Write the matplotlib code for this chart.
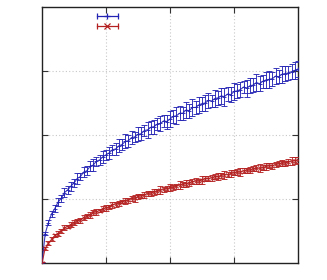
import matplotlib
matplotlib.use("Agg")
import matplotlib.pyplot as plt
from matplotlib.lines import Line2D
from matplotlib.legend_handler import HandlerLine2D, HandlerTuple

x = [0.00, 0.05, 0.10, 0.15, 0.20, 0.25, 0.30, 0.35, 0.40, 0.45,
     0.50, 0.55, 0.60, 0.65, 0.70, 0.75, 0.80, 0.85, 0.90, 0.95,
     1.00, 1.05, 1.10, 1.15, 1.20, 1.25, 1.30, 1.35, 1.40, 1.45,
     1.50, 1.55, 1.60, 1.65, 1.70, 1.75, 1.80, 1.85, 1.90, 1.95,
     2.00, 2.05, 2.10, 2.15, 2.20, 2.25, 2.30, 2.35, 2.40, 2.45,
     2.50, 2.55, 2.60, 2.65, 2.70, 2.75, 2.80, 2.85, 2.90, 2.95,
     3.00, 3.05, 3.10, 3.15, 3.20, 3.25, 3.30, 3.35, 3.40, 3.45,
     3.50, 3.55, 3.60, 3.65, 3.70, 3.75, 3.80, 3.85, 3.90, 3.95,
     4.00]

blue = [0.00, 0.46, 0.63, 0.77, 0.85, 0.95, 1.01, 1.10, 1.14, 1.20,
        1.25, 1.32, 1.35, 1.42, 1.44, 1.51, 1.53, 1.59, 1.61, 1.66,
        1.69, 1.72, 1.77, 1.78, 1.83, 1.85, 1.90, 1.91, 1.96, 1.97,
        2.01, 2.02, 2.07, 2.08, 2.12, 2.13, 2.17, 2.18, 2.22, 2.21,
        2.25, 2.29, 2.30, 2.34, 2.34, 2.39, 2.38, 2.43, 2.43, 2.47,
        2.49, 2.50, 2.54, 2.53, 2.57, 2.58, 2.61, 2.60, 2.64, 2.63,
        2.68, 2.69, 2.71, 2.75, 2.73, 2.77, 2.78, 2.82, 2.80, 2.84,
        2.86, 2.87, 2.88, 2.92, 2.91, 2.95, 2.96, 2.97, 2.99, 3.01,
        3.03]

blue_err = [0.01, 0.03, 0.04, 0.05, 0.05, 0.06, 0.05, 0.07, 0.06, 0.07,
            0.07, 0.08, 0.06, 0.08, 0.07, 0.08, 0.09, 0.07, 0.08, 0.09,
            0.08, 0.10, 0.08, 0.09, 0.10, 0.08, 0.11, 0.09, 0.10, 0.08,
            0.11, 0.10, 0.09, 0.12, 0.10, 0.11, 0.09, 0.12, 0.10, 0.11,
            0.12, 0.10, 0.13, 0.11, 0.10, 0.12, 0.11, 0.13, 0.10, 0.12,
            0.11, 0.13, 0.12, 0.10, 0.13, 0.11, 0.12, 0.14, 0.11, 0.12,
            0.13, 0.11, 0.12, 0.10, 0.13, 0.12, 0.11, 0.13, 0.12, 0.10,
            0.12, 0.13, 0.11, 0.12, 0.10, 0.13, 0.12, 0.11, 0.12, 0.13,
            0.12]

red = [0.00, 0.23, 0.31, 0.37, 0.43, 0.46, 0.50, 0.55, 0.57, 0.60,
       0.63, 0.66, 0.67, 0.71, 0.73, 0.75, 0.79, 0.80, 0.82, 0.85,
       0.86, 0.87, 0.91, 0.92, 0.93, 0.96, 0.97, 0.98, 1.01, 1.01,
       1.04, 1.05, 1.06, 1.09, 1.09, 1.11, 1.12, 1.14, 1.15, 1.16,
       1.18, 1.18, 1.20, 1.22, 1.23, 1.24, 1.25, 1.27, 1.28, 1.28,
       1.30, 1.32, 1.32, 1.33, 1.35, 1.35, 1.37, 1.38, 1.38, 1.40,
       1.41, 1.42, 1.42, 1.44, 1.45, 1.45, 1.47, 1.48, 1.48, 1.49,
       1.51, 1.52, 1.52, 1.54, 1.55, 1.56, 1.56, 1.58, 1.59, 1.60,
       1.61]

red_err = [0.01, 0.02, 0.03, 0.03, 0.03, 0.04, 0.03, 0.04, 0.03, 0.04,
           0.04, 0.03, 0.04, 0.04, 0.03, 0.04, 0.04, 0.05, 0.03, 0.04,
           0.04, 0.03, 0.05, 0.04, 0.04, 0.03, 0.05, 0.04, 0.04, 0.05,
           0.04, 0.03, 0.05, 0.04, 0.04, 0.05, 0.04, 0.06, 0.04, 0.04,
           0.05, 0.04, 0.04, 0.06, 0.04, 0.05, 0.04, 0.04, 0.05, 0.04,
           0.06, 0.04, 0.04, 0.05, 0.04, 0.05, 0.04, 0.06, 0.04, 0.05,
           0.04, 0.05, 0.06, 0.04, 0.04, 0.05, 0.04, 0.05, 0.06, 0.04,
           0.05, 0.04, 0.05, 0.04, 0.04, 0.05, 0.04, 0.05, 0.06, 0.05,
           0.04]

ticks = [1, 2, 3]

BLUE = "#2424b4"
RED = "#b42020"

fig = plt.figure(figsize=(3.27, 2.80), dpi=100)
ax = fig.add_axes([42 / 327, 17 / 280, 256 / 327, 256 / 280])

ax.errorbar(x, blue, yerr=blue_err, color=BLUE, ecolor=BLUE, lw=0.8,
            elinewidth=0.7, capsize=2, capthick=0.7, marker="+", ms=3,
            mew=0.7, alpha=0.9, zorder=3)
ax.errorbar(x, red, yerr=red_err, color=RED, ecolor=RED, lw=0.8,
            elinewidth=0.7, capsize=2, capthick=0.7, marker="x", ms=3,
            mew=0.7, alpha=0.9, zorder=3)

ax.set_xlim(0, 4)
ax.set_ylim(0, 4)
ax.set_xticks(ticks)
ax.set_yticks(ticks)
ax.tick_params(direction="in", length=4, width=0.8, top=True, right=True,
               labelbottom=False, labelleft=False, colors="#333333")
ax.grid(True, color="#c8c8c8", linestyle=(0, (1, 2)), linewidth=0.8)
for s in ax.spines.values():
    s.set_linewidth(1.0)
    s.set_color("#222222")

# legend handles: horizontal line with end caps and a centred marker
bcap = Line2D([], [], color=BLUE, lw=0.9, marker="|", ms=5, mew=0.9)
bmk = Line2D([], [], color=BLUE, lw=0, marker="+", ms=4, mew=0.9)
rcap = Line2D([], [], color=RED, lw=0.9, marker="|", ms=5, mew=0.9)
rmk = Line2D([], [], color=RED, lw=0, marker="x", ms=4, mew=0.9)
hm = {bcap: HandlerLine2D(numpoints=2), rcap: HandlerLine2D(numpoints=2),
      bmk: HandlerLine2D(numpoints=1), rmk: HandlerLine2D(numpoints=1),
      tuple: HandlerTuple(ndivide=1, pad=0.0)}
ax.legend([(bcap, bmk), (rcap, rmk)], [" ", " "], handler_map=hm,
          frameon=False, loc="upper left", bbox_to_anchor=(0.184, 0.998),
          handlelength=2.5, handletextpad=0.2, labelspacing=0.0,
          fontsize=8, borderaxespad=0.0)

fig.savefig("out.png", dpi=100)
